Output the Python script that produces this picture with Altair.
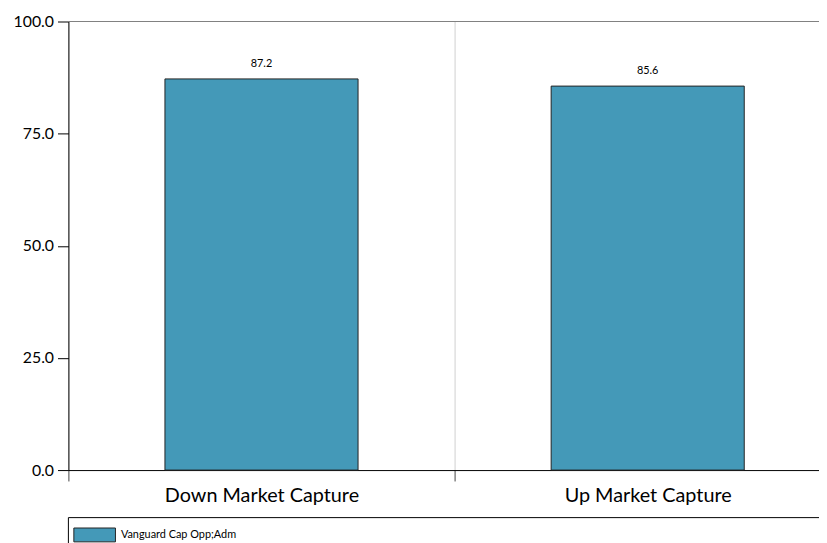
import altair as alt
import pandas as pd

categories = ["Down Market Capture", "Up Market Capture"]
values = [87.2, 85.6]
series = ["Vanguard Cap Opp;Adm", "Vanguard Cap Opp;Adm"]
y_ticks = [0, 25, 50, 75, 100]

df = pd.DataFrame({"category": categories, "value": values, "series": series})

FONT = "Lato"
BAR = "#4499b8"

base = alt.Chart(df)

x_enc = alt.X(
    "category:N",
    sort=categories,
    scale=alt.Scale(paddingInner=0, paddingOuter=0),
    axis=alt.Axis(
        title=None,
        labelAngle=0,
        labelLimit=500,
        tickBand="extent",
        grid=True,
        gridColor="#d0d0d0",
        gridWidth=1,
        domainColor="black",
        tickColor="#444444",
        tickSize=11,
        labelFontSize=20,
        labelFont=FONT,
        labelColor="black",
        labelPadding=5,
    ),
)

y_enc = alt.Y(
    "value:Q",
    scale=alt.Scale(domain=[0, 100], nice=False),
    axis=alt.Axis(
        title=None,
        values=y_ticks,
        format=".1f",
        grid=False,
        domainColor="black",
        tickColor="black",
        tickSize=11,
        labelFontSize=16,
        labelFont=FONT,
        labelColor="black",
        labelPadding=4,
    ),
)

bars = base.mark_bar(
    stroke="#222222", strokeWidth=1, width=alt.RelativeBandSize(0.5)
).encode(
    x=x_enc,
    y=y_enc,
    color=alt.Color(
        "series:N",
        scale=alt.Scale(range=[BAR]),
        legend=alt.Legend(
            title=None,
            orient="none",
            legendX=5,
            legendY=497,
            symbolType="M-1,-0.3333H1V0.3333H-1Z",
            symbolSize=1764,
            symbolStrokeColor="#222222",
            symbolStrokeWidth=1,
            symbolOpacity=1,
            labelFont=FONT,
            labelFontSize=11,
            labelColor="black",
            labelOffset=5,
        ),
    ),
)

labels = base.mark_text(baseline="bottom", dy=-10, fontSize=11, font=FONT, color="black").encode(
    x=alt.X("category:N", sort=categories),
    y="value:Q",
    text=alt.Text("value:Q", format=".1f"),
)

top_line = alt.Chart(pd.DataFrame({"v": [100]})).mark_rule(color="#808080", strokeWidth=1).encode(
    y=alt.Y("v:Q")
)

legend_top = alt.Chart(pd.DataFrame({"a": [0]})).mark_rule(color="black", strokeWidth=1).encode(
    x=alt.value(0), x2=alt.value(800), y=alt.value(501)
)
legend_left = alt.Chart(pd.DataFrame({"a": [0]})).mark_rule(color="black", strokeWidth=1).encode(
    x=alt.value(0), y=alt.value(501), y2=alt.value(560)
)

chart = alt.layer(top_line, bars, labels, legend_top, legend_left).properties(
    width=780,
    height=453,
    autosize=alt.AutoSizeParams(type="none"),
    padding={"left": 61, "top": 11, "right": -22, "bottom": 71},
).configure_view(stroke=None)

chart.save("out.html", embed_options={"renderer": "svg", "actions": False})
